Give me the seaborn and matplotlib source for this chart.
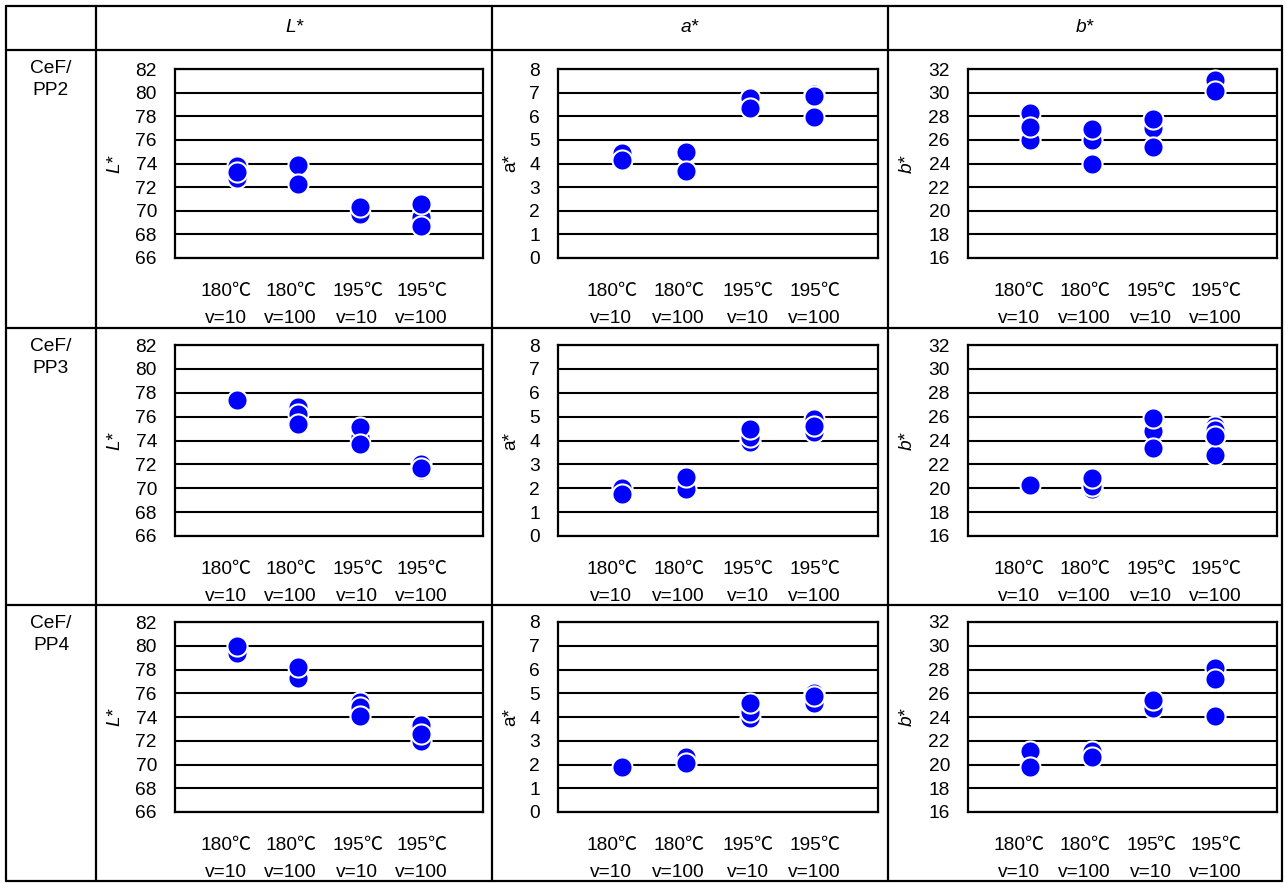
import matplotlib
matplotlib.use("Agg")
import matplotlib.pyplot as plt
import seaborn as sns
import pandas as pd
from matplotlib.lines import Line2D
from matplotlib.offsetbox import TextArea, HPacker, VPacker, AnnotationBbox

sns.set_theme(style="white")
plt.rcParams['font.family'] = ['Liberation Sans', 'Noto Sans CJK JP', 'DejaVu Sans']
plt.rcParams['text.color'] = 'black'
plt.rcParams['axes.labelcolor'] = 'black'

# Processing conditions (x categories) and sample rows
temps = ["180", "180", "195", "195"]
speeds = ["v=10", "v=100", "v=10", "v=100"]
conditions = [f"{t}℃ {s}" for t, s in zip(temps, speeds)]
samples = ["CeF/\nPP2", "CeF/\nPP3", "CeF/\nPP4"]
metrics = ["L*", "a*", "b*"]

# Replicate colour measurements per condition
L_PP2 = [[73.8, 72.8, 73.3], [73.9, 72.3], [69.7, 70.3], [69.5, 70.6, 68.7]]
a_PP2 = [[4.45, 4.15], [4.5, 3.7], [6.78, 6.35], [6.95, 5.97, 6.85]]
b_PP2 = [[28.3, 26.0, 27.1], [26.0, 24.0, 26.9], [27.0, 25.4, 27.8], [31.1, 30.1]]

L_PP3 = [[77.3, 77.4], [76.8, 76.2, 75.4], [74.3, 75.1, 73.7], [71.5, 72.0, 71.7]]
a_PP3 = [[2.0, 1.78], [1.98, 2.48], [3.92, 4.15, 4.47], [4.92, 4.35, 4.6]]
b_PP3 = [[20.3], [19.9, 20.2, 20.9], [24.8, 23.4, 25.85], [25.2, 24.9, 22.8, 24.4]]

L_PP4 = [[79.4, 80.0], [77.3, 78.2], [75.3, 74.85, 74.05], [73.3, 72.0, 72.6]]
a_PP4 = [[1.9], [2.3, 2.05], [3.97, 4.2, 4.57], [5.0, 4.6, 4.88]]
b_PP4 = [[21.15, 19.75], [21.1, 20.6], [24.8, 25.45], [28.1, 24.1, 27.2]]

grid_data = [
    [L_PP2, a_PP2, b_PP2],
    [L_PP3, a_PP3, b_PP3],
    [L_PP4, a_PP4, b_PP4],
]

y_ranges = {"L*": (66, 82, 2), "a*": (0, 8, 1), "b*": (16, 32, 2)}
y_italic = {"L*": "italic", "a*": "normal", "b*": "italic"}

FS = 13.8
W, H = 1285, 883
fig = plt.figure(figsize=(W / 100, H / 100), dpi=100)

def fx(px):
    return px / W

def fy(py):
    return 1 - py / H

# Table grid
col_edges = [6, 96, 492, 888, 1282]
row_edges = [6, 50, 328, 605, 881]
lw_tab = 1.6
for x in col_edges:
    fig.add_artist(Line2D([fx(x), fx(x)], [fy(row_edges[0]), fy(row_edges[-1])],
                          color="black", lw=lw_tab))
for y in row_edges:
    fig.add_artist(Line2D([fx(col_edges[0]), fx(col_edges[-1])], [fy(y), fy(y)],
                          color="black", lw=lw_tab))

# Header
for j, m in enumerate(metrics):
    cx = (col_edges[j + 1] + col_edges[j + 2]) / 2
    fig.text(fx(cx), fy(28), m, ha="center", va="center", fontsize=FS, style="italic")

# Row labels
for i, s in enumerate(samples):
    fig.text(fx(51), fy(row_edges[i + 1] + 10), s, ha="center", va="top",
             fontsize=FS, linespacing=1.35)


def cond_label(temp, speed):
    """Two-line condition label with a full-width degree-Celsius sign."""
    num = TextArea(temp, textprops=dict(fontsize=FS, family=["Liberation Sans"], color="black"))
    deg = TextArea("℃", textprops=dict(fontsize=FS, family=["Noto Sans CJK JP"], color="black"))
    top = HPacker(children=[num, deg], pad=0, sep=-1, align="baseline")
    bot = TextArea(speed, textprops=dict(fontsize=FS, family=["Liberation Sans"], color="black"))
    return VPacker(children=[top, bot], pad=0, sep=6, align="center")


# horizontal nudge of each category label (points)
label_shift = [-7.9, -5.4, -1.8, 0.0]

ax_cols = [(175, 483), (558, 878), (968, 1277)]
ax_rows = [(69, 258), (345, 536), (622, 812)]

for i in range(3):
    for j, m in enumerate(metrics):
        x0, x1 = ax_cols[j]
        y0, y1 = ax_rows[i]
        ax = fig.add_axes([fx(x0), fy(y1), fx(x1) - fx(x0), (y1 - y0) / H])
        vals = grid_data[i][j]
        df = pd.DataFrame({
            "cond": [conditions[k] for k in range(4) for _ in vals[k]],
            "val": [v for k in range(4) for v in vals[k]],
        })
        sns.stripplot(data=df, x="cond", y="val", order=conditions, jitter=False,
                      color="#0000FF", size=14.5, linewidth=1.5, edgecolor="white",
                      ax=ax, zorder=3)
        lo, hi, step = y_ranges[m]
        ax.set_ylim(lo, hi)
        ax.set_xlim(-1, 4)
        ticks = list(range(lo, hi + 1, step))
        ax.set_yticks(ticks)
        ax.set_yticklabels([str(t) for t in ticks], fontsize=FS)
        ax.tick_params(axis="y", length=0, pad=13, colors="black")
        ax.tick_params(axis="x", length=0, labelbottom=False)
        ax.yaxis.grid(True, color="black", lw=1.5)
        ax.xaxis.grid(False)
        ax.set_axisbelow(True)
        for sp in ax.spines.values():
            sp.set_color("black")
            sp.set_linewidth(1.6)
        ax.set_xlabel("")
        ax.set_ylabel("")
        ax.text(-(x0 - (col_edges[j + 1] + 19)) / (x1 - x0), 0.5, m,
                transform=ax.transAxes, rotation=90, ha="center", va="center",
                fontsize=FS, style=y_italic[m])
        for k in range(4):
            ab = AnnotationBbox(cond_label(temps[k], speeds[k]), (k, 0),
                                xycoords=ax.get_xaxis_transform(),
                                box_alignment=(0.5, 1.0), xybox=(label_shift[k], -16),
                                boxcoords="offset points", frameon=False, pad=0,
                                annotation_clip=False)
            ax.add_artist(ab)

fig.savefig("out.png", dpi=100, facecolor="white")
